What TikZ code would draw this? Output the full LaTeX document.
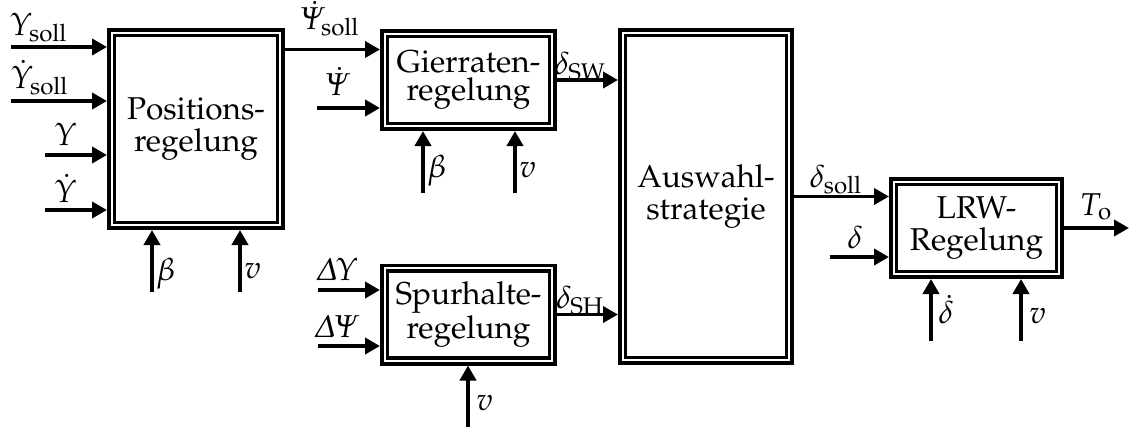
\documentclass[tikz,border=0pt]{standalone}
\usepackage[T1]{fontenc}
\usepackage[slantedGreek]{mathpazo}
\usetikzlibrary{arrows.meta}
\tikzset{
  blk/.style={draw, line width=1.8pt, double, double distance=1.1pt, outer sep=2.35pt,
    inner sep=0pt, align=center, font=\fontsize{15.8}{16}\selectfont},
  blktight/.style={blk, font=\fontsize{15.8}{14.3}\selectfont},
  arr/.style={line width=1.9pt, -{Triangle[length=7.5pt,width=8pt]}},
  lab/.style={inner sep=0pt, anchor=base, font=\fontsize{15.8}{16}\selectfont},
  labr/.style={lab, anchor=base west}
}
\begin{document}
\begin{tikzpicture}[x=0.5pt, y=-0.5pt]
\useasboundingbox (0,0) rectangle (1129,428);

% blocks
\node[blk, minimum width=84.3pt, minimum height=96.3pt] (P) at (196,129) {Positions-\\regelung};
\node[blktight, minimum width=83.8pt, minimum height=46.3pt] (G) at (468.5,80) {Gierraten-\\regelung};
\node[blktight, minimum width=83.8pt, minimum height=46.3pt] (S) at (468.5,314.5) {Spurhalte-\\regelung};
\node[blk, minimum width=83.3pt, minimum height=163.8pt] (A) at (706,196.5) {Auswahl-\\strategie};
\node[blk, minimum width=82.8pt, minimum height=46.3pt] (L) at (976.5,228) {LRW-\\Regelung};

% free ends
\coordinate (ys) at (11,47);
\coordinate (yds) at (11,101);
\coordinate (y) at (45,155);
\coordinate (yd) at (45,210);
\coordinate (pb) at (152,292);
\coordinate (pv) at (240,292);
\coordinate (pgy) at (0,49.5);
\coordinate (psid) at (317,108);
\coordinate (gb) at (423,193);
\coordinate (gv) at (515,193);
\coordinate (dy) at (318,290);
\coordinate (dpsi) at (318,346);
\coordinate (sv) at (468,427);
\coordinate (dl) at (830,257);
\coordinate (lo) at (1129,228);
\coordinate (ldd) at (931,341);
\coordinate (lv) at (1021,341);

% connectors
\draw[arr] (ys) -- (ys -| P.west);
\draw[arr] (yds) -- (yds -| P.west);
\draw[arr] (y) -- (y -| P.west);
\draw[arr] (yd) -- (yd -| P.west);
\draw[arr] (pb) -- (pb |- P.south);
\draw[arr] (pv) -- (pv |- P.south);
\draw[arr] (P.east |- pgy) -- (G.west |- pgy);
\draw[arr] (psid) -- (psid -| G.west);
\draw[arr] (gb) -- (gb |- G.south);
\draw[arr] (gv) -- (gv |- G.south);
\draw[arr] (G.east) -- (G.east -| A.west);
\draw[arr] (dy) -- (dy -| S.west);
\draw[arr] (dpsi) -- (dpsi -| S.west);
\draw[arr] (sv) -- (sv |- S.south);
\draw[arr] (S.east) -- (S.east -| A.west);
\draw[arr] (A.east) -- (A.east -| L.west);
\draw[arr] (dl) -- (dl -| L.west);
\draw[arr] (L.east) -- (lo);
\draw[arr] (ldd) -- (ldd |- L.south);
\draw[arr] (lv) -- (lv |- L.south);

% labels
\node[lab] (lys) at (39,35) {$\Upsilon_{\mathrm{soll}}$};
\node[lab] (lyds) at (40,88) {$\dot{\Upsilon}_{\mathrm{soll}}$};
\node[lab] (ly) at (66,145) {$\Upsilon$};
\node[lab] (lyd) at (66,202) {$\dot{\Upsilon}$};
\node[labr] (lpb) at (156,280) {$\beta$};
\node[labr] (lpv) at (244,278) {$v$};
\node[lab] (lpsis) at (330,29) {$\dot{\Psi}_{\mathrm{soll}}$};
\node[lab] (lpsi) at (338,95) {$\dot{\Psi}$};
\node[lab] (lsw) at (580,74) {$\delta_{\mathrm{SW}}$};
\node[labr] (lgb) at (427,177) {$\beta$};
\node[labr] (lgv) at (519,177) {$v$};
\node[lab] (ldy) at (337,280) {$\Delta\Upsilon$};
\node[lab] (ldpsi) at (337,337) {$\Delta\Psi$};
\node[lab] (lsh) at (580,308) {$\delta_{\mathrm{SH}}$};
\node[labr] (lsv) at (476,410) {$v$};
\node[lab] (lsoll) at (836,187) {$\delta_{\mathrm{soll}}$};
\node[lab] (ld) at (855,248) {$\delta$};
\node[lab] (lto) at (1096,215) {$T_{\mathrm{o}}$};
\node[labr] (lldd) at (938,323) {$\dot{\delta}$};
\node[labr] (llv) at (1029,323) {$v$};
\end{tikzpicture}
\end{document}
